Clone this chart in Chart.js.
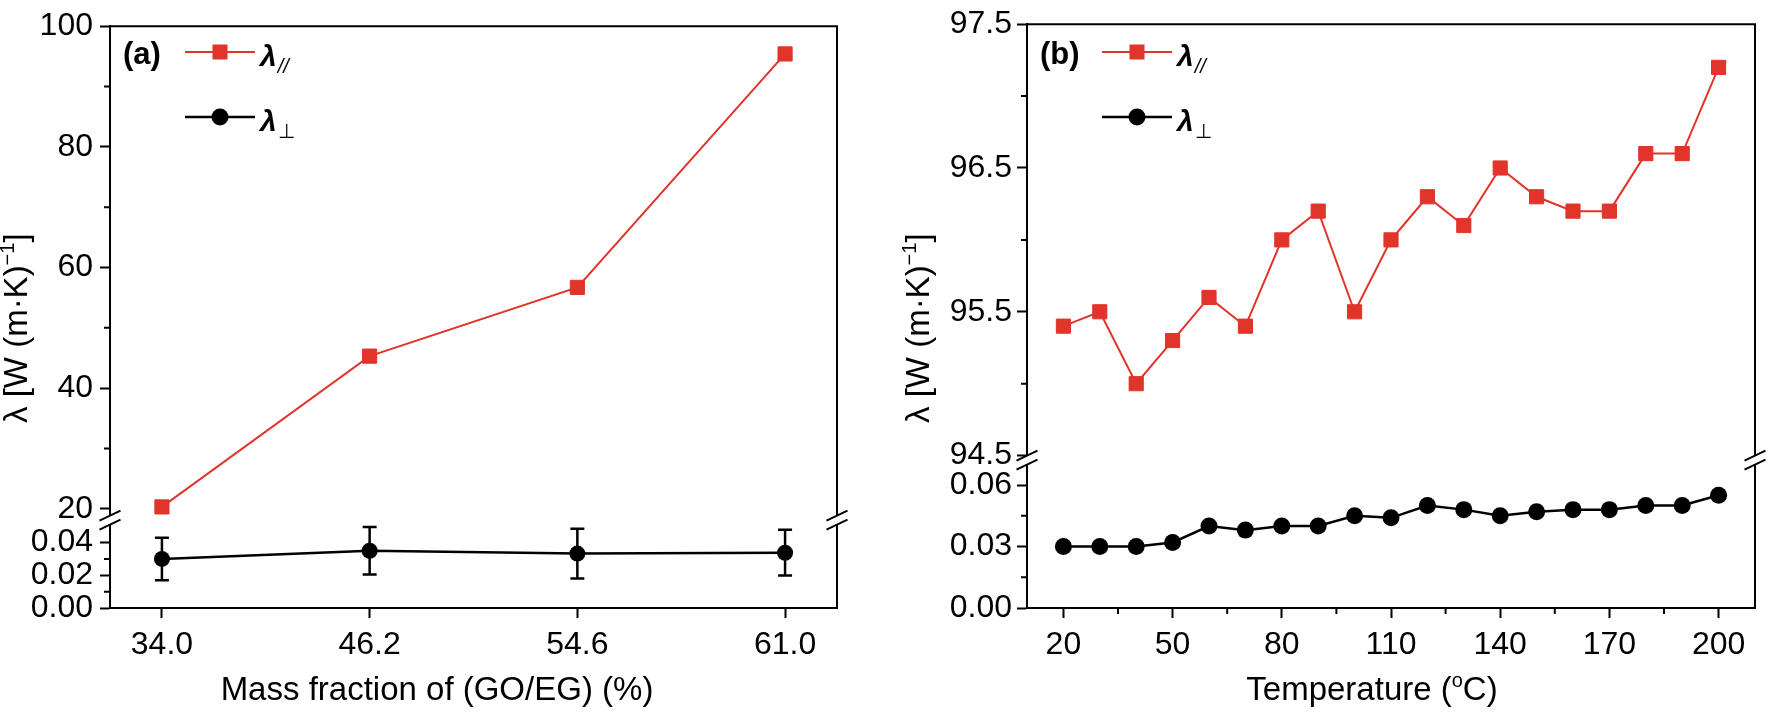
<!DOCTYPE html>
<html>
<head>
<meta charset="utf-8">
<script src="https://cdn.jsdelivr.net/npm/chart.js@4.4.1/dist/chart.umd.min.js"></script>
<style>
  html, body { margin: 0; padding: 0; background: #fff; }
  #wrap { position: relative; width: 1773px; height: 712px; }
  canvas { position: absolute; top: 0; }
  #chartA { left: 0; }
  #chartB { left: 880px; }
</style>
</head>
<body>
<div id="wrap">
  <canvas id="chartA" width="880" height="712"></canvas>
  <canvas id="chartB" width="893" height="712"></canvas>
</div>
<script>
// (a) thermal conductivity vs mass fraction of GO/EG
const massLabels = ['34.0', '46.2', '54.6', '61.0'];
const massParallel = [20.3, 45.3, 56.7, 95.4];
const massPerp = [0.030, 0.035, 0.0333, 0.0338];
const massPerpErr = [0.013, 0.0145, 0.0152, 0.014];
const massTopTicks = [20, 40, 60, 80, 100];
const massTopMinor = [30, 50, 70, 90];
const massBotTicks = [0, 0.02, 0.04];
const massBotMinor = [0.01, 0.03];

// (b) thermal conductivity vs temperature
const temperatures = [20, 30, 40, 50, 60, 70, 80, 90, 100, 110, 120, 130, 140, 150, 160, 170, 180, 190, 200];
const tempParallel = [95.4, 95.5, 95.0, 95.3, 95.6, 95.4, 96.0, 96.2, 95.5, 96.0, 96.3, 96.1, 96.5, 96.3, 96.2, 96.2, 96.6, 96.6, 97.2];
const tempPerp = [0.030, 0.030, 0.030, 0.032, 0.040, 0.038, 0.040, 0.040, 0.045, 0.044, 0.050, 0.048, 0.045, 0.047, 0.048, 0.048, 0.050, 0.050, 0.055];
const tempTicks = [20, 50, 80, 110, 140, 170, 200];
const tempMinor = [35, 65, 95, 125, 155, 185];
const tempTopTicks = [94.5, 95.5, 96.5, 97.5];
const tempTopMinor = [95, 96, 97];
const tempBotTicks = [0, 0.03, 0.06];
const tempBotMinor = [0.015, 0.045];

const RED = '#e1342a';
const FONT = "'Liberation Sans', Arial, sans-serif";

Chart.defaults.font.family = FONT;
Chart.defaults.font.size = 32;
Chart.defaults.color = '#000';

// mixed text with superscripts
function drawRich(ctx, segs, x, y, size, centered) {
  const fontOf = s => s.sup ? `${Math.round(size * 0.62)}px ${FONT}` : `${size}px ${FONT}`;
  let w = 0;
  segs.forEach(s => { ctx.font = fontOf(s); w += ctx.measureText(s.t).width; });
  let cx = centered ? x - w / 2 : x;
  segs.forEach(s => {
    ctx.font = fontOf(s);
    ctx.fillText(s.t, cx, s.sup ? y - size * 0.4 : y);
    cx += ctx.measureText(s.t).width;
  });
}

// frame, axis breaks, minor ticks, error bars, legend and titles
const decor = {
  id: 'decor',
  beforeDatasetsDraw(chart, args, o) {
    if (!o.errors) return;
    const ctx = chart.ctx;
    const yb = chart.scales.yBot;
    const pts = chart.getDatasetMeta(1).data;
    const vals = chart.data.datasets[1].data;
    ctx.save();
    ctx.strokeStyle = '#000';
    ctx.lineWidth = 2.5;
    pts.forEach((p, i) => {
      const y1 = yb.getPixelForValue(vals[i].y + o.errors[i]);
      const y2 = yb.getPixelForValue(vals[i].y - o.errors[i]);
      ctx.beginPath();
      ctx.moveTo(p.x, y1); ctx.lineTo(p.x, y2);
      ctx.moveTo(p.x - 7, y1); ctx.lineTo(p.x + 7, y1);
      ctx.moveTo(p.x - 7, y2); ctx.lineTo(p.x + 7, y2);
      ctx.stroke();
    });
    ctx.restore();
  },
  afterDraw(chart, args, o) {
    const ctx = chart.ctx;
    const {left, right, top, bottom} = chart.chartArea;
    const yt = chart.scales.yTop, yb = chart.scales.yBot;
    ctx.save();
    ctx.strokeStyle = '#000';
    ctx.lineWidth = 2;

    ctx.beginPath();
    ctx.moveTo(left - 1, top); ctx.lineTo(right + 1, top);
    ctx.moveTo(right, top); ctx.lineTo(right, yt.bottom);
    ctx.moveTo(right, yb.top); ctx.lineTo(right, bottom + 1);
    ctx.stroke();

    const yc = (yt.bottom + yb.top) / 2;
    [left, right].forEach(bx => {
      [-4.5, 4.5].forEach(d => {
        ctx.beginPath();
        ctx.moveTo(bx - 10.5, yc + d + 5);
        ctx.lineTo(bx + 10.5, yc + d - 5);
        ctx.stroke();
      });
    });

    ctx.beginPath();
    o.minorTop.forEach(v => { const py = yt.getPixelForValue(v); ctx.moveTo(left - 6, py); ctx.lineTo(left, py); });
    o.minorBot.forEach(v => { const py = yb.getPixelForValue(v); ctx.moveTo(left - 6, py); ctx.lineTo(left, py); });
    (o.minorX || []).forEach(v => { const px = chart.scales.x.getPixelForValue(v); ctx.moveTo(px, bottom); ctx.lineTo(px, bottom + 6); });
    ctx.stroke();

    // legend
    ctx.fillStyle = '#000';
    ctx.textAlign = 'left';
    ctx.textBaseline = 'alphabetic';
    ctx.font = `bold 31px ${FONT}`;
    ctx.fillText(o.panel, left + 13, 64);
    chart.data.datasets.forEach((ds, i) => {
      const ly = 52 + i * 65;
      ctx.strokeStyle = ds.borderColor;
      ctx.lineWidth = ds.borderWidth;
      ctx.beginPath();
      ctx.moveTo(left + 75, ly); ctx.lineTo(left + 145, ly);
      ctx.stroke();
      ctx.fillStyle = ds.pointBackgroundColor;
      ctx.beginPath();
      if (ds.pointStyle === 'rect') ctx.rect(left + 110 - 7.5, ly - 7.5, 15, 15);
      else ctx.arc(left + 110, ly, 8.5, 0, Math.PI * 2);
      ctx.fill();
      ctx.fillStyle = '#000';
      ctx.font = `italic bold 30px ${FONT}`;
      ctx.fillText('λ', left + 150, ly + 14);
      const lw = ctx.measureText('λ').width;
      ctx.font = ds.legendSub === '//' ? `italic 20px ${FONT}` : `20px ${FONT}`;
      ctx.fillText(ds.legendSub, left + 151 + lw, ly + 21);
    });

    // axis titles
    drawRich(ctx, o.xTitle, o.xTitleX, 700, 33, true);
    ctx.translate(o.yTitleX, 423);
    ctx.rotate(-Math.PI / 2);
    drawRich(ctx, [{t: 'λ [W (m·K)'}, {t: '−1', sup: true}, {t: ']'}], 0, 0, 33, false);
    ctx.restore();
  }
};

function yAxis(min, max, weight, stackWeight, ticks, digits, width, pad) {
  return {
    type: 'linear', position: 'left', stack: 'y', weight: weight, stackWeight: stackWeight,
    min: min, max: max,
    afterBuildTicks: s => { s.ticks = ticks.map(v => ({value: v})); },
    afterFit: s => { s.width = width; },
    border: {display: true, color: '#000', width: 2},
    grid: {drawOnChartArea: false, tickLength: 10, tickWidth: 2, tickColor: '#000'},
    ticks: {padding: pad, autoSkip: false, callback: v => v.toFixed(digits)}
  };
}

function gapAxis(weight, stackWeight, width) {
  return {
    type: 'linear', position: 'left', stack: 'y', weight: weight, stackWeight: stackWeight,
    min: 0, max: 1,
    afterFit: s => { s.width = width; },
    border: {display: false},
    grid: {display: false},
    ticks: {display: false}
  };
}

const xBase = {
  type: 'linear',
  afterFit: s => { s.height = 104; },
  border: {display: true, color: '#000', width: 2},
  grid: {drawOnChartArea: false, tickLength: 10, tickWidth: 2, tickColor: '#000'}
};

// (a)
new Chart(document.getElementById('chartA'), {
  type: 'line',
  data: {
    datasets: [
      {
        data: massParallel.map((v, i) => ({x: i, y: v})), yAxisID: 'yTop',
        borderColor: RED, borderWidth: 2, pointStyle: 'rect', pointRadius: 10,
        pointBackgroundColor: RED, pointBorderColor: RED, pointBorderWidth: 1, legendSub: '//'
      },
      {
        data: massPerp.map((v, i) => ({x: i, y: v})), yAxisID: 'yBot',
        borderColor: '#000', borderWidth: 2.5, pointStyle: 'circle', pointRadius: 8,
        pointBackgroundColor: '#000', pointBorderColor: '#000', pointBorderWidth: 0, legendSub: '⊥'
      }
    ]
  },
  options: {
    responsive: false, animation: false, devicePixelRatio: 1,
    layout: {padding: {left: 0, right: 43, top: 22, bottom: 0}},
    plugins: {
      legend: {display: false}, tooltip: {enabled: false},
      decor: {
        panel: '(a)', errors: massPerpErr, minorTop: massTopMinor, minorBot: massBotMinor,
        xTitle: [{t: 'Mass fraction of (GO/EG) (%)'}], xTitleX: 437, yTitleX: 27
      }
    },
    scales: {
      x: Object.assign({}, xBase, {
        min: -0.25, max: 3.25,
        afterBuildTicks: s => { s.ticks = massLabels.map((_, i) => ({value: i})); },
        ticks: {padding: 8, autoSkip: false, callback: v => massLabels[v]}
      }),
      yTop: yAxis(18.85, 100, 3, 493, massTopTicks, 0, 110, 7),
      yGap: gapAxis(2, 9, 110),
      yBot: yAxis(0, 0.051, 1, 84, massBotTicks, 2, 110, 7)
    }
  },
  plugins: [decor]
});

// (b)
new Chart(document.getElementById('chartB'), {
  type: 'line',
  data: {
    datasets: [
      {
        data: tempParallel.map((v, i) => ({x: temperatures[i], y: v})), yAxisID: 'yTop',
        borderColor: RED, borderWidth: 2, pointStyle: 'rect', pointRadius: 10,
        pointBackgroundColor: RED, pointBorderColor: RED, pointBorderWidth: 1, legendSub: '//'
      },
      {
        data: tempPerp.map((v, i) => ({x: temperatures[i], y: v})), yAxisID: 'yBot',
        borderColor: '#000', borderWidth: 2.5, pointStyle: 'circle', pointRadius: 8.5,
        pointBackgroundColor: '#000', pointBorderColor: '#000', pointBorderWidth: 0, legendSub: '⊥'
      }
    ]
  },
  options: {
    responsive: false, animation: false, devicePixelRatio: 1,
    layout: {padding: {left: 0, right: 18, top: 22, bottom: 0}},
    plugins: {
      legend: {display: false}, tooltip: {enabled: false},
      decor: {
        panel: '(b)', minorTop: tempTopMinor, minorBot: tempBotMinor, minorX: tempMinor,
        xTitle: [{t: 'Temperature ('}, {t: 'o', sup: true}, {t: 'C)'}], xTitleX: 492, yTitleX: 49
      }
    },
    scales: {
      x: Object.assign({}, xBase, {
        min: 10, max: 210,
        afterBuildTicks: s => { s.ticks = tempTicks.map(v => ({value: v})); },
        ticks: {padding: 8, autoSkip: false, callback: v => String(v)}
      }),
      yTop: yAxis(94.5, 97.5, 3, 433, tempTopTicks, 1, 147, 5),
      yGap: gapAxis(2, 9, 147),
      yBot: yAxis(0, 0.07, 1, 144, tempBotTicks, 2, 147, 5)
    }
  },
  plugins: [decor]
});
</script>
</body>
</html>
